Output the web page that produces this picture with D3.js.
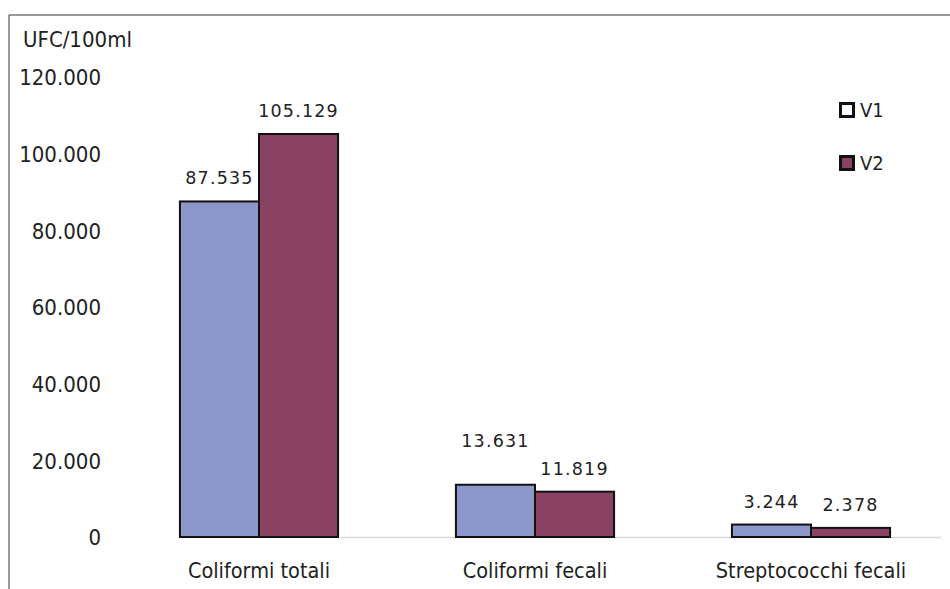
<!DOCTYPE html>
<html>
<head>
<meta charset="utf-8">
<script src="https://cdn.jsdelivr.net/npm/d3@7/dist/d3.min.js"></script>
<style>
  html, body { margin: 0; padding: 0; background: #fff; }
  svg { display: block; }
  text { fill: #222; }
</style>
</head>
<body>
<svg id="chart" width="950" height="589"></svg>
<script>
// Bacterial counts (UFC/100ml) for two sampling campaigns
const categories = ["Coliformi totali", "Coliformi fecali", "Streptococchi fecali"];
const seriesNames = ["V1", "V2"];
const v1Values = [87535, 13631, 3244];
const v2Values = [105129, 11819, 2378];
const yTicks = [0, 20000, 40000, 60000, 80000, 100000, 120000];
const yTickLabels = ["0", "20.000", "40.000", "60.000", "80.000", "100.000", "120.000"];
const unitLabel = "UFC/100ml";

const colors = { V1: "#8e97c9", V2: "#8a4262" };
const condensed = "'DejaVu Sans Condensed', 'DejaVu Sans', sans-serif";
const wide = "'DejaVu Sans', Verdana, sans-serif";

const svg = d3.select("#chart");
const W = 950, H = 589;

// outer frame (top and left edges visible)
svg.append("line").attr("x1", 9).attr("x2", W).attr("y1", 15).attr("y2", 15)
  .attr("stroke", "#777").attr("stroke-width", 1.5);
svg.append("line").attr("x1", 9).attr("x2", 9).attr("y1", 15).attr("y2", H)
  .attr("stroke", "#777").attr("stroke-width", 1.5);

const plot = { left: 121, right: 949, top: 77, bottom: 537 };

const y = d3.scaleLinear().domain([0, 120000]).range([plot.bottom, plot.top]);
const x0 = d3.scaleBand().domain(categories).range([plot.left, plot.right]).paddingInner(0.427).paddingOuter(0.2135);
const x1 = d3.scaleBand().domain(seriesNames).range([0, x0.bandwidth()]);

const fmt = d3.formatLocale({ decimal: ",", thousands: ".", grouping: [3], currency: ["", ""] }).format(",d");

// y axis: labels only, no line or ticks
const yAxis = d3.axisLeft(y).tickValues(yTicks)
  .tickFormat((d, i) => yTickLabels[i]).tickSize(0).tickPadding(0);
const gy = svg.append("g").attr("transform", `translate(101,0)`).call(yAxis);
gy.select(".domain").remove();
gy.selectAll("text").style("font-family", condensed)
  .style("font-size", "22px").attr("fill", "#222").attr("dy", "0.36em");

// unit label
svg.append("text").attr("x", 23).attr("y", 47)
  .style("font-family", condensed).style("font-size", "22px").text(unitLabel);

// baseline
svg.append("line").attr("x1", plot.left + 220).attr("x2", plot.right - 8)
  .attr("y1", y(0) + 0.5).attr("y2", y(0) + 0.5)
  .attr("stroke", "#d9d9d9").attr("stroke-width", 1.5);

const rows = categories.map((c, i) => ({
  category: c,
  values: [{ key: "V1", value: v1Values[i] }, { key: "V2", value: v2Values[i] }]
}));

const groups = svg.append("g").selectAll("g").data(rows).join("g")
  .attr("transform", d => `translate(${x0(d.category)},0)`);

groups.selectAll("rect").data(d => d.values).join("rect")
  .attr("x", d => x1(d.key))
  .attr("y", d => y(d.value))
  .attr("width", x1.bandwidth())
  .attr("height", d => y(0) - y(d.value))
  .attr("fill", d => colors[d.key])
  .attr("stroke", "#111")
  .attr("stroke-width", 2);

// value labels; the first label of the middle group sits higher
const extraLift = { "Coliformi fecali|V1": 21 };
groups.selectAll("text.val").data(d => d.values.map(v => ({ ...v, category: d.category }))).join("text")
  .attr("class", "val")
  .attr("x", d => x1(d.key) + x1.bandwidth() / 2)
  .attr("y", d => y(d.value) - 17 - (extraLift[d.category + "|" + d.key] || 0))
  .attr("text-anchor", "middle")
  .style("font-family", wide)
  .style("font-size", "17.5px")
  .style("letter-spacing", "1.2px")
  .text(d => fmt(d.value));

// category axis labels
const xAxis = d3.axisBottom(x0).tickSize(0).tickPadding(0);
const gx = svg.append("g").attr("transform", `translate(0,${plot.bottom + 41})`).call(xAxis);
gx.select(".domain").remove();
gx.selectAll("text").style("font-family", condensed)
  .style("font-size", "21.5px").attr("fill", "#222").attr("dy", "0");

// legend
const legend = svg.append("g").attr("transform", "translate(839,102)");
seriesNames.forEach((s, i) => {
  const g = legend.append("g").attr("transform", `translate(0,${i * 53})`);
  g.append("rect").attr("x", 1.5).attr("y", 1.5).attr("width", 13).attr("height", 13)
    .attr("fill", s === "V1" ? "#fff" : colors.V2).attr("stroke", "#111").attr("stroke-width", 3);
  g.append("text").attr("x", 21).attr("y", 15)
    .style("font-family", condensed).style("font-size", "20px").text(s);
});
</script>
</body>
</html>
